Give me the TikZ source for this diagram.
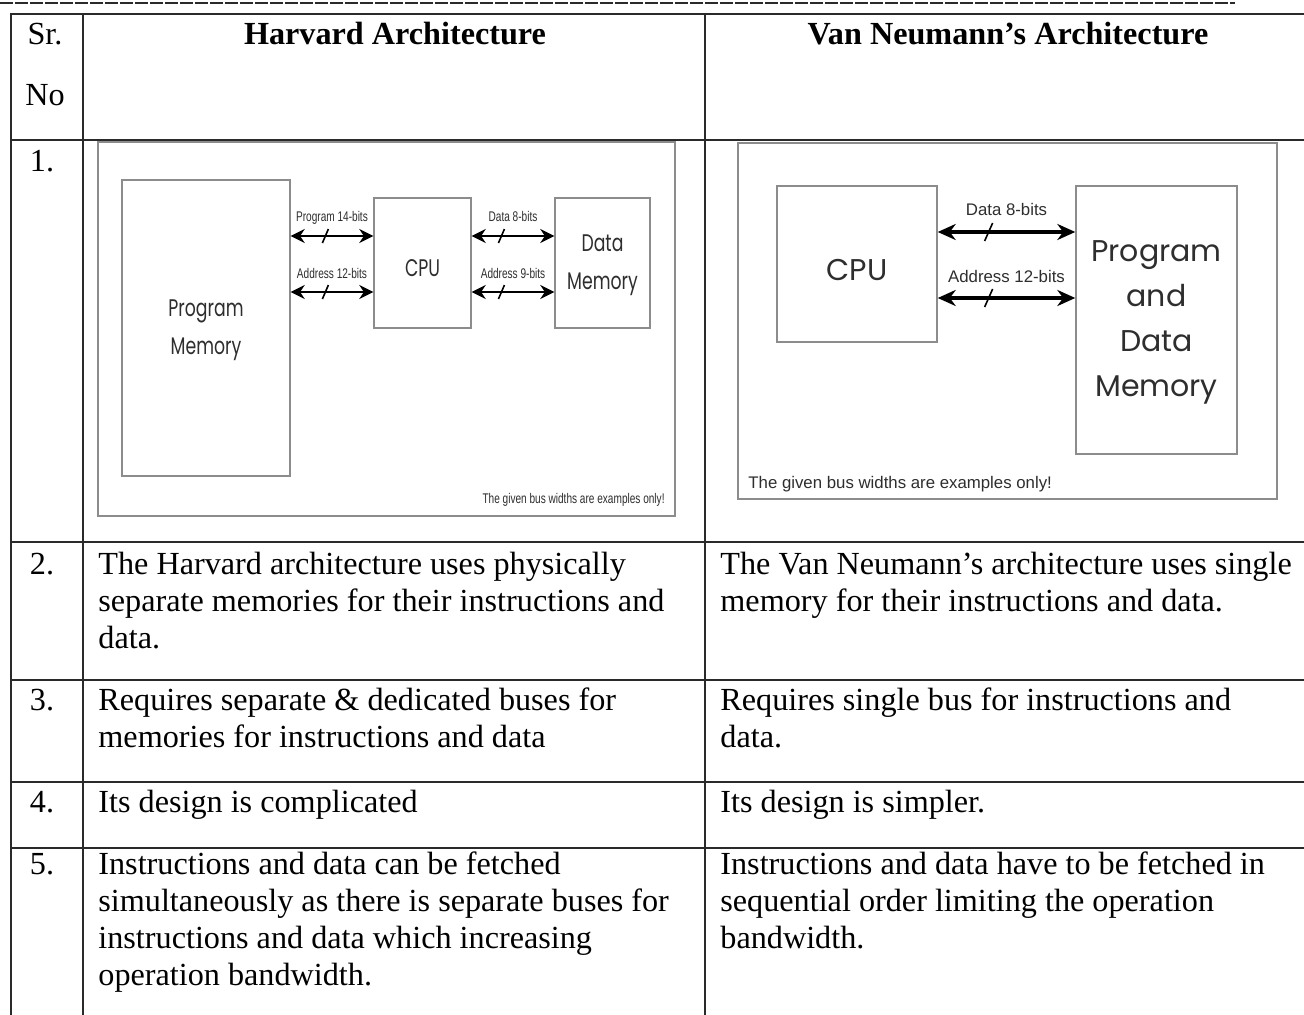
\documentclass[tikz,border=0pt]{standalone}
\usepackage{fontspec}
\setmainfont{Liberation Serif}
\newfontfamily\unitfont{Poppins}
\newfontfamily\labelfont{Liberation Sans}
\usetikzlibrary{arrows.meta,positioning}
\definecolor{rulegray}{HTML}{2A2A2A}
\definecolor{boxgray}{HTML}{8C8C8C}
\definecolor{inkgray}{HTML}{2E2E2E}
\newcommand{\squeeze}[1]{\scalebox{0.72}[1]{#1}}
\tikzset{
    rule/.style={draw=rulegray, line width=1.1pt},
    dashrule/.style={draw=rulegray, line width=0.8pt, dash pattern=on 6.5pt off 1pt},
    cell/.style={
           anchor=base west,   % base = last line
           inner sep=0pt,
           align=left,
           font=\fontsize{16.1}{18.5}\selectfont,
           },
    head/.style={anchor=base, inner sep=0pt, font=\fontsize{16.1}{18.5}\selectfont\bfseries},
    frame/.style={rectangle, draw=boxgray, line width=0.8pt, inner sep=0pt},
    unit/.style={
           rectangle,
           draw=boxgray, line width=0.7pt,
           text=inkgray,
           inner sep=0pt,
           align=center,
           },
    hbus/.style={line width=1.3pt, {Stealth[length=7pt,width=7pt]}-{Stealth[length=7pt,width=7pt]}},
    vbus/.style={line width=1.6pt, {Stealth[length=9pt,width=8pt]}-{Stealth[length=9pt,width=8pt]}},
    tickmark/.style={line width=0.8pt},
    buslabel/.style={inner sep=1pt, text depth=0pt, text=inkgray},
}

\begin{document}
\begin{tikzpicture}[x=0.5pt,y=-0.5pt]
    \useasboundingbox[fill=white] (0,0) rectangle (1304,1015);

    % dashed rule above the table
    \draw[dashrule] (0,3) -- (1235,3);

    % table grid
    \foreach \y in {14,140,542,680,782,848}
        \draw[rule] (10,\y) -- (1304,\y);
    \foreach \x in {11,83,705}
        \draw[rule] (\x,14) -- (\x,1015);

    % header row
    \node[head, font=\fontsize{16.1}{18.5}\selectfont] (sr) at (45,45) {Sr.};
    \node[head, font=\fontsize{16.1}{18.5}\selectfont] (no) at (45,106) {No};
    \node[head] (harvard) at (395,45) {Harvard Architecture};
    \node[head] (neumann) at (1008,45) {Van Neumann’s Architecture};

    % row numbers
    \foreach \n/\y in {1/172,2/574,3/710,4/812,5/874}
        \node[head, font=\fontsize{16.1}{18.5}\selectfont] (num\n) at (42,\y) {\n.};

    % ---- Harvard diagram ----
    \node[frame, minimum width=288.5pt, minimum height=187pt] (hframe) at (386.5,329) {};
    \node[unit, minimum width=84pt, minimum height=148pt,
          font=\unitfont\fontsize{12}{19}\selectfont] (progmem) at (206,328)
          {\squeeze{\begin{tabular}{@{}c@{}}Program\\[0pt]Memory\end{tabular}}};
    \node[unit, minimum width=48.5pt, minimum height=65pt,
          text height=13.4pt, text depth=0pt,   % sits a bit low in the box
          font=\unitfont\fontsize{12}{19}\selectfont] (hcpu) at (422.5,263)
          {\squeeze{CPU}};
    \node[unit, minimum width=47.5pt, minimum height=65pt,
          font=\unitfont\fontsize{12}{19}\selectfont,
          right of=hcpu,        % next to the CPU
          node distance=90pt,
          anchor=center] (datamem)
          {\squeeze{\begin{tabular}{@{}c@{}}Data\\[0pt]Memory\end{tabular}}};

    % Harvard buses
    \path (hcpu.west) ++(0,-27) coordinate (hprog);
    \path (hcpu.west) ++(0,29) coordinate (haddr);
    \path (hcpu.east) ++(0,-27) coordinate (hdata);
    \path (hcpu.east) ++(0,29) coordinate (hdaddr);
    \draw[hbus] (progmem.east |- hprog) -- coordinate[pos=.42] (t1)
        node[buslabel, midway, above=5.5pt, font=\labelfont\fontsize{7}{8}\selectfont] (lprog) {\squeeze{Program 14-bits}}
        (hprog);
    \draw[hbus] (progmem.east |- haddr) -- coordinate[pos=.42] (t2)
        node[buslabel, midway, above=5pt, font=\labelfont\fontsize{7}{8}\selectfont] (laddr) {\squeeze{Address 12-bits}}
        (haddr);
    \draw[hbus] (hdata) -- coordinate[pos=.36] (t3)
        node[buslabel, midway, above=5.5pt, font=\labelfont\fontsize{7}{8}\selectfont] (ldata) {\squeeze{Data 8-bits}}
        (datamem.west |- hdata);
    \draw[hbus] (hdaddr) -- coordinate[pos=.36] (t4)
        node[buslabel, midway, above=5pt, font=\labelfont\fontsize{7}{8}\selectfont] (ldaddr) {\squeeze{Address 9-bits}}
        (datamem.west |- hdaddr);
    \foreach \t in {t1,t2,t3,t4}
        \draw[tickmark] (\t) ++(-3,7) -- ++(6,-14);

    \node[buslabel, anchor=base east, font=\labelfont\fontsize{7}{8}\selectfont] (hnote) at (667,503)
        {\squeeze{The given bus widths are examples only!}};

    % ---- Van Neumann diagram ----
    \node[frame, minimum width=269.5pt, minimum height=178pt] (vframe) at (1007.5,321) {};
    \node[unit, minimum width=80pt, minimum height=78pt,
          text height=16.5pt, text depth=0pt,   % sits a bit low in the box
          font=\unitfont\fontsize{15}{22.5}\selectfont] (vcpu) at (857,264) {CPU};
    \node[unit, minimum width=80.5pt, minimum height=134pt,
          font=\unitfont\fontsize{15}{22.5}\selectfont] (pdmem) at (1156.5,320)
          {\begin{tabular}{@{}c@{}}Program\\[0pt]and\\[0pt]Data\\[0pt]Memory\end{tabular}};

    % shared bus
    \path (vcpu.east) ++(0,-32) coordinate (vdata);
    \path (vcpu.east) ++(0,34) coordinate (vaddr);
    \draw[vbus] (vdata) -- coordinate[pos=.37] (t5)
        node[buslabel, midway, above=6.5pt, font=\labelfont\fontsize{8.4}{10}\selectfont] (vldata) {Data 8-bits}
        (pdmem.west |- vdata);
    \draw[vbus] (vaddr) -- coordinate[pos=.37] (t6)
        node[buslabel, midway, above=6pt, font=\labelfont\fontsize{8.4}{10}\selectfont] (vladdr) {Address 12-bits}
        (pdmem.west |- vaddr);
    \foreach \t in {t5,t6}
        \draw[tickmark] (\t) ++(-4,9) -- ++(8,-18);

    \node[buslabel, anchor=base west, font=\labelfont\fontsize{8.4}{10}\selectfont] (vnote) at (746,488)
        {The given bus widths are examples only!};

    % ---- text rows (placed at the baseline of their last line) ----
    \node[cell] (h2) at (98,648) {The Harvard architecture uses physically\\separate memories for their instructions and\\data.};
    \node[cell] (v2) at (720,611) {The Van Neumann’s architecture uses single\\memory for their instructions and data.};
    \node[cell] (h3) at (98,747) {Requires separate \& dedicated buses for\\memories for instructions and data};
    \node[cell] (v3) at (720,747) {Requires single bus for instructions and\\data.};
    \node[cell] (h4) at (98,812) {Its design is complicated};
    \node[cell] (v4) at (720,812) {Its design is simpler.};
    \node[cell] (h5) at (98,985) {Instructions and data can be fetched\\simultaneously as there is separate buses for\\instructions and data which increasing\\operation bandwidth.};
    \node[cell] (v5) at (720,948) {Instructions and data have to be fetched in\\sequential order limiting the operation\\bandwidth.};
\end{tikzpicture}
\end{document}
